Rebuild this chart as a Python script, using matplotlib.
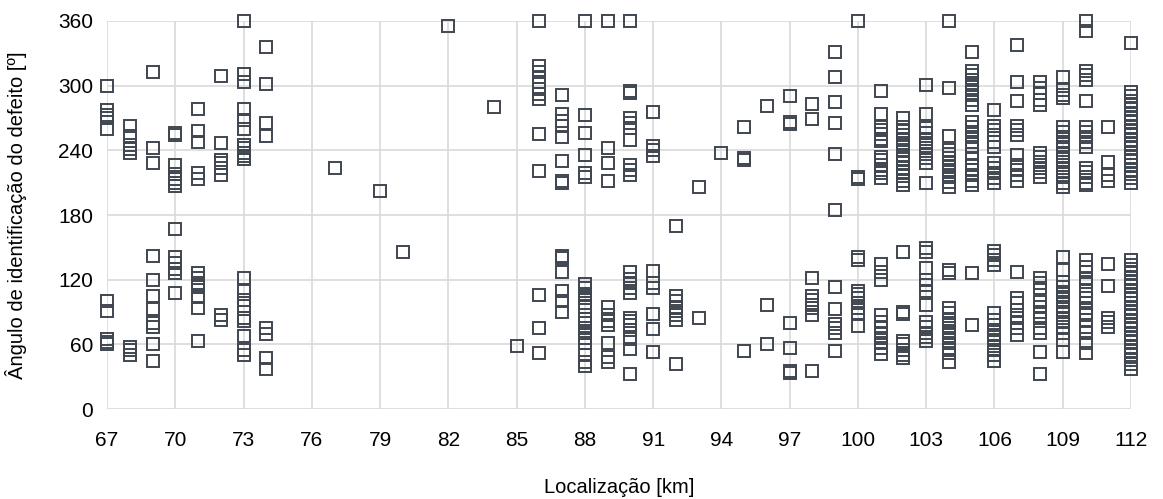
import matplotlib
matplotlib.use("Agg")
import matplotlib.pyplot as plt

plt.rcParams['font.family'] = ['Liberation Sans', 'DejaVu Sans']

# km -> list of defect angles [deg]
km67 = [300, 277, 273, 270, 260, 100, 91, 65, 62, 60]
km68 = [263, 253, 245, 241, 238, 58, 55, 50]
km69 = [313, 242, 228, 142, 120, 105, 93, 80, 76, 60, 45]
km70 = [256, 254, 226, 218, 213, 210, 207, 167, 141, 136, 130, 126, 108]
km71 = [278, 258, 248, 219, 213, 126, 122, 117, 113, 104, 94, 63]
km72 = [309, 247, 231, 228, 224, 217, 87, 83]
km73 = [360, 311, 303, 278, 268, 260, 245, 242, 238, 235, 232,
        122, 110, 101, 96, 85, 82, 68, 55, 50]
km74 = [336, 302, 265, 253, 75, 70, 47, 37]
km77 = [224]
km79 = [202]
km80 = [146]
km82 = [355]
km84 = [280]
km85 = [59]
km86 = [360, 318, 313, 308, 303, 297, 292, 288, 255, 221, 106, 75, 52]
km87 = [291, 274, 267, 263, 252, 230, 212, 210, 142, 140, 127, 110, 100, 90]
km88 = [360, 273, 256, 236, 219, 215, 116, 112, 107, 103, 98, 95,
        84, 80, 75, 71, 66, 61, 50, 44, 40]
km89 = [360, 242, 228, 212, 95, 87, 82, 78, 61, 48, 44]
km90 = [360, 295, 293, 270, 265, 261, 250, 226, 222, 217,
        127, 121, 117, 112, 108, 85, 82, 78, 73, 65, 56, 33]
km91 = [276, 244, 240, 235, 128, 117, 112, 88, 74, 53]
km92 = [170, 105, 100, 95, 91, 87, 83, 42]
km93 = [206, 85]
km94 = [238]
km95 = [262, 233, 231, 54]
km96 = [281, 97, 60]
km97 = [290, 266, 264, 80, 57, 35, 34]
km98 = [283, 269, 122, 105, 101, 97, 94, 87, 35]
km99 = [331, 308, 285, 265, 237, 185, 113, 93, 79, 75, 71, 54]
km100 = [360, 215, 213, 141, 138, 110, 107, 103, 98, 94, 89, 77]
km101 = [295, 274, 262, 259, 255, 251, 249, 234, 231, 226, 222, 219, 214,
         135, 127, 120, 87, 81, 75, 71, 66, 61, 57, 51]
km102 = [270, 262, 258, 254, 250, 245, 240, 236, 232, 228, 224, 220, 216, 212, 208,
         146, 90, 88, 63, 60, 55, 50, 47]
km103 = [301, 274, 261, 256, 251, 247, 242, 237, 233, 228, 210,
         149, 146, 131, 120, 115, 110, 97, 81, 76, 71, 67, 63]
km104 = [360, 298, 253, 240, 237, 233, 228, 225, 220, 215, 211, 206,
         129, 126, 94, 89, 84, 80, 75, 71, 66, 61, 57, 52, 44]
km105 = [331, 314, 310, 305, 301, 296, 291, 287, 282, 266, 262, 257, 252, 248,
         243, 237, 233, 226, 222, 217, 212, 208, 126, 78]
km106 = [277, 263, 259, 254, 248, 243, 228, 224, 219, 214, 210,
         147, 143, 138, 134, 89, 83, 78, 73, 69, 64, 59, 55, 50, 45]
km107 = [338, 303, 286, 263, 259, 254, 236, 226, 222, 217, 212,
         127, 103, 98, 92, 85, 80, 75, 69]
km108 = [303, 298, 293, 287, 282, 238, 234, 229, 224, 220, 215,
         122, 117, 112, 99, 95, 90, 85, 75, 71, 53, 33]
km109 = [308, 296, 291, 289, 262, 257, 252, 248, 243, 238, 234, 229, 224, 220,
         215, 210, 206, 141, 129, 118, 113, 109, 104, 99, 95, 90, 85, 81, 76,
         71, 64, 53]
km110 = [360, 351, 314, 310, 305, 286, 262, 257, 252, 248, 243, 224, 220, 215,
         210, 208, 138, 132, 127, 122, 118, 110, 103, 98, 94, 89, 83, 76, 71,
         61, 52]
km111 = [262, 229, 217, 212, 135, 114, 85, 81, 76]
km112 = [340, 294, 290, 286, 282, 278, 274, 270, 266, 262, 258, 254, 250, 246,
         242, 238, 234, 230, 226, 222, 218, 214, 210,
         138, 134, 130, 126, 122, 118, 114, 110, 106, 102, 98, 94, 90, 86, 82,
         78, 74, 70, 66, 62, 58, 54, 50, 46, 42, 37]

columns = {
    67: km67, 68: km68, 69: km69, 70: km70, 71: km71, 72: km72, 73: km73,
    74: km74, 77: km77, 79: km79, 80: km80, 82: km82, 84: km84, 85: km85,
    86: km86, 87: km87, 88: km88, 89: km89, 90: km90, 91: km91, 92: km92,
    93: km93, 94: km94, 95: km95, 96: km96, 97: km97, 98: km98, 99: km99,
    100: km100, 101: km101, 102: km102, 103: km103, 104: km104, 105: km105,
    106: km106, 107: km107, 108: km108, 109: km109, 110: km110, 111: km111,
    112: km112,
}

xs, ys = [], []
for k, vals in columns.items():
    xs += [k] * len(vals)
    ys += vals

fig = plt.figure(figsize=(11.63, 4.99), dpi=100)
ax = fig.add_axes([0.092, 0.180, 0.8805, 0.778])

ax.plot(xs, ys, ls='none', marker='s', ms=8, mfc='none',
        mec='#3f4650', mew=1.4, clip_on=False, zorder=3)

ax.set_xlim(67, 112)
ax.set_ylim(0, 360)
ax.set_xticks(range(67, 113, 3))
ax.set_yticks(range(0, 361, 60))
ax.grid(True, color='#d9d9d9', lw=1.2)
ax.set_axisbelow(True)
for s in ax.spines.values():
    s.set_visible(False)
ax.tick_params(length=0, labelsize=15, pad=16)
ax.tick_params(axis='y', pad=10)

ax.set_xlabel('Localização [km]', fontsize=14.5, labelpad=20)
ax.set_ylabel('Ângulo de identificação do defeito [º]', fontsize=14.5, labelpad=22)

fig.savefig('out.png', dpi=100)
